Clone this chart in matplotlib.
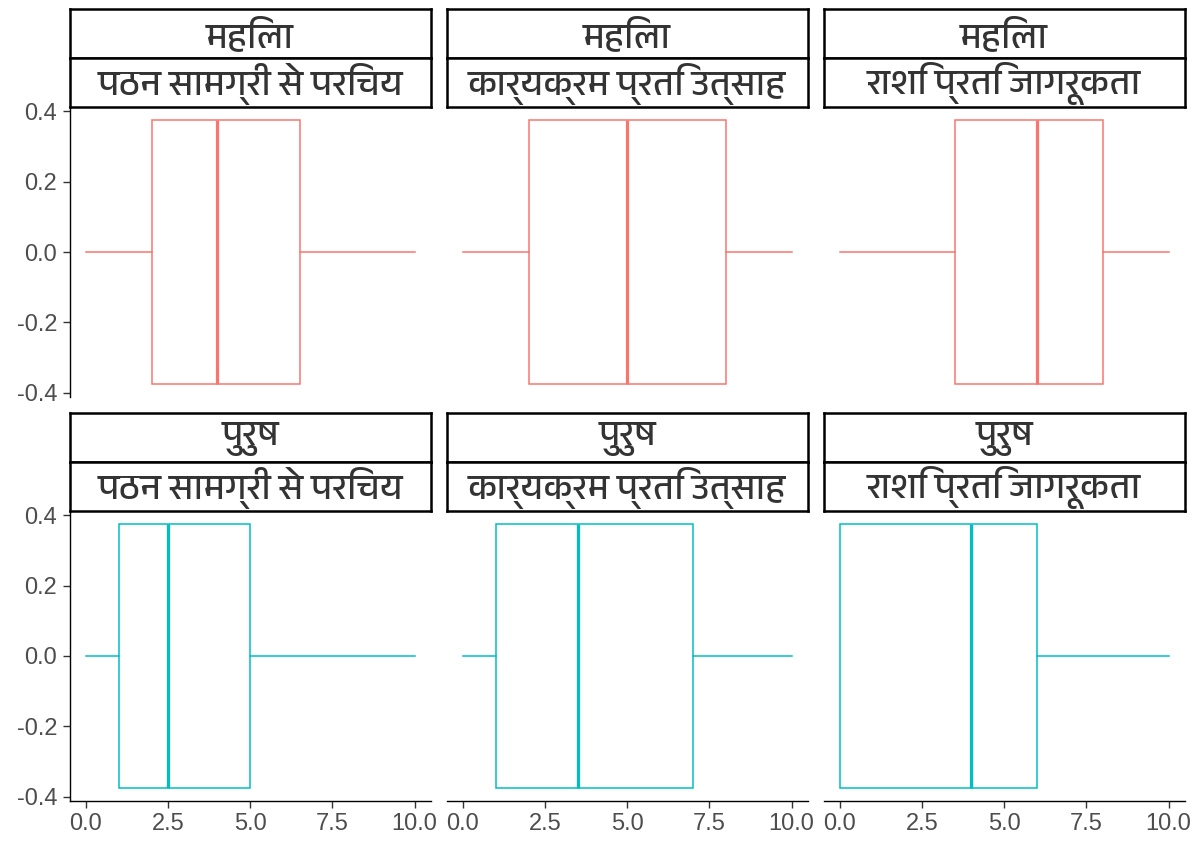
import matplotlib
matplotlib.use("Agg")
import matplotlib.pyplot as plt
from matplotlib import font_manager as fm
from matplotlib.ft2font import FT2Font

# Facet labels
genders = ["महिला", "पुरुष"]
aspects = ["पठन सामग्री से परिचय", "कार्यक्रम प्रति उत्साह", "राशि प्रति जागरूकता"]

# Box statistics (lower whisker, Q1, median, Q3, upper whisker) per aspect
female_low = [0, 0, 0]
female_q1 = [2, 2, 3.5]
female_med = [4, 5, 6]
female_q3 = [6.5, 8, 8]
female_high = [10, 10, 10]

male_low = [0, 0, 0]
male_q1 = [1, 1, 0]
male_med = [2.5, 3.5, 4]
male_q3 = [5, 7, 6]
male_high = [10, 10, 10]

x_ticks = [0, 2.5, 5, 7.5, 10]
y_ticks = [-0.4, -0.2, 0.0, 0.2, 0.4]

colors = ["#F8766D", "#00BFC4"]


def family_with(char):
    """Return an installed font family that has a glyph for `char`."""
    found = []
    for f in fm.fontManager.ttflist:
        try:
            cmap = FT2Font(f.fname).get_charmap()
        except Exception:
            continue
        if ord(char) in cmap:
            found.append(f.name)
    if not found:
        return None
    for name in found:
        if "Devanagari" in name and "UI" not in name:
            return name
    for name in found:
        if "Devanagari" in name:
            return name
    return found[0]


deva = family_with("म")
strip_family = [deva, "DejaVu Sans"] if deva else ["DejaVu Sans"]

plt.rcParams["axes.unicode_minus"] = False
plt.rcParams["font.family"] = ["Liberation Sans", "DejaVu Sans"]

W, H = 1203, 846
fig = plt.figure(figsize=(W / 100, H / 100), dpi=100)
fig.patch.set_facecolor("white")

col_left = [69.5, 446.5, 823.5]
panel_w = 361.5
row_top = [107, 511]
panel_h = 290
strip_h = 49


def fig_rect(left, top, width, height):
    return [left / W, 1 - (top + height) / H, width / W, height / H]


stats_rows = [
    (female_low, female_q1, female_med, female_q3, female_high),
    (male_low, male_q1, male_med, male_q3, male_high),
]

tick_color = "#333333"
label_color = "#4D4D4D"

for r in range(2):
    lo, q1, med, q3, hi = stats_rows[r]
    for c in range(3):
        ax = fig.add_axes(fig_rect(col_left[c], row_top[r], panel_w, panel_h))
        stats = [{
            "whislo": lo[c], "q1": q1[c], "med": med[c],
            "q3": q3[c], "whishi": hi[c], "fliers": [],
        }]
        col = colors[r]
        ax.bxp(
            stats, positions=[0], widths=0.75, orientation="horizontal",
            showcaps=False, showfliers=False, patch_artist=True,
            boxprops=dict(facecolor="white", edgecolor=col, linewidth=1.1),
            medianprops=dict(color=col, linewidth=2.3, solid_capstyle="butt"),
            whiskerprops=dict(color=col, linewidth=1.1),
        )
        ax.set_xlim(-0.5, 10.5)
        ax.set_ylim(-0.4125, 0.4125)
        ax.set_facecolor("white")
        for s in ["top", "right"]:
            ax.spines[s].set_visible(False)
        ax.spines["left"].set_linewidth(1.0)
        ax.spines["bottom"].set_linewidth(1.0)
        ax.tick_params(length=5.3, width=1.0, color=tick_color,
                       labelcolor=label_color, labelsize=17, pad=3.5)
        ax.set_xticks(x_ticks)
        ax.set_xticklabels([f"{v:.1f}" for v in x_ticks])
        ax.set_yticks(y_ticks)
        ax.set_yticklabels([f"{v:.1f}" for v in y_ticks])
        if c > 0:
            ax.spines["left"].set_visible(False)
            ax.tick_params(axis="y", left=False, labelleft=False)
        if r == 0:
            ax.spines["bottom"].set_visible(False)
            ax.tick_params(axis="x", bottom=False, labelbottom=False)

        # Two stacked facet strips above each panel
        for k, txt in enumerate([genders[r], aspects[c]]):
            top = row_top[r] - strip_h * (2 - k)
            sax = fig.add_axes(fig_rect(col_left[c], top, panel_w, strip_h))
            sax.set_xticks([])
            sax.set_yticks([])
            sax.set_facecolor("white")
            for s in sax.spines.values():
                s.set_linewidth(1.8)
                s.set_color("black")
            sax.text(0.5, 0.47, txt, transform=sax.transAxes, ha="center",
                     va="center", fontsize=26, color="#333333",
                     family=strip_family, weight="light")

fig.savefig("out.png", dpi=100)
